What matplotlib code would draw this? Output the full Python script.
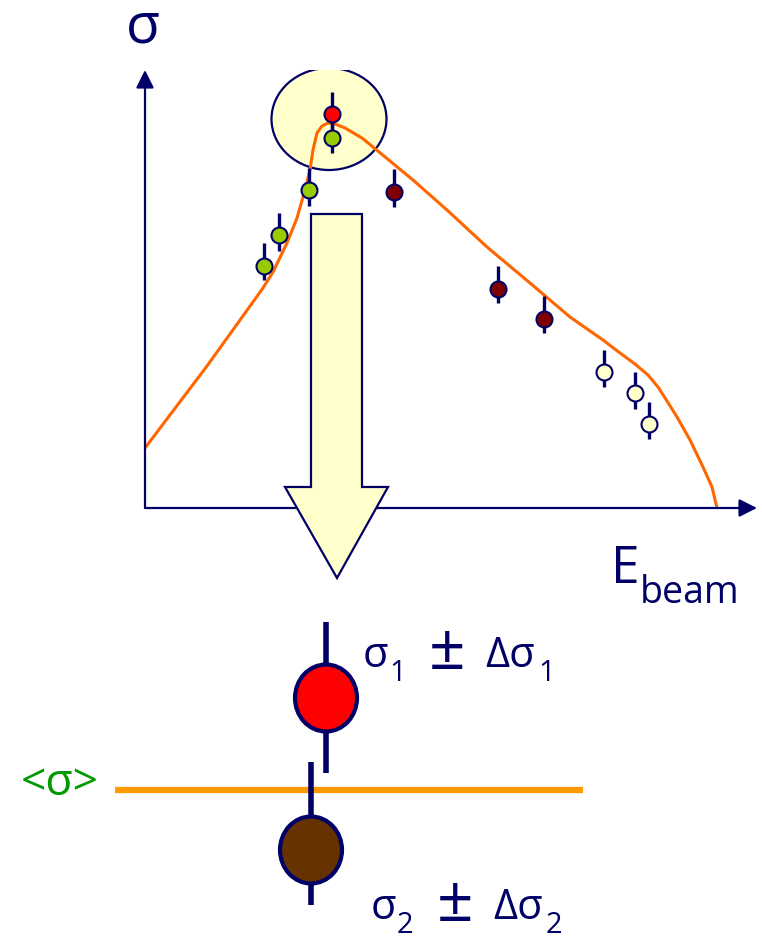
import matplotlib.pyplot as plt
from matplotlib.patches import Ellipse, Polygon

plt.rcParams['font.family'] = ['Open Sans', 'DejaVu Sans']

NAVY = '#000066'

# ---------------- upper panel: sigma vs beam energy ----------------
# measured points (E, sigma, err_down, err_up) grouped by experiment
green_E = [11.9, 13.4, 16.4, 18.7]
green_s = [24.2, 27.3, 31.8, 37.0]
green_lo = [1.4, 1.6, 1.6, 1.5]
green_hi = [2.3, 2.2, 2.2, 2.3]

red_E = [18.7]
red_s = [39.4]
red_lo = [1.5]
red_hi = [2.2]

dark_E = [24.9, 35.3, 39.9]
dark_s = [31.6, 21.9, 18.9]
dark_lo = [1.5, 1.4, 1.4]
dark_hi = [2.3, 2.3, 2.3]

pale_E = [45.9, 49.0, 50.4]
pale_s = [13.6, 11.5, 8.4]
pale_lo = [1.5, 1.6, 1.5]
pale_hi = [2.2, 2.1, 2.2]

# model curve
curve_E = [0.0, 6.2, 11.8, 12.8, 14.2, 15.2, 15.8, 16.5, 16.8,
           17.2, 17.7, 18.3, 19.0, 20.0, 21.7, 22.8, 26.8, 30.2, 34.2,
           38.5, 42.5, 45.8, 47.5, 49.0, 50.3, 51.3, 52.2, 53.2, 54.5, 55.8,
           56.7, 57.2]
curve_s = [6.0, 14.2, 22.0, 23.6, 26.5, 29.0, 31.1, 33.8, 35.8,
           37.5, 38.2, 38.5, 38.4, 38.0, 37.0, 36.1, 32.8, 29.8, 26.1,
           22.5, 19.1, 16.8, 15.5, 14.4, 13.3, 12.1, 10.7, 9.1, 6.8, 4.1,
           2.1, 0.0]

# ---------------- lower panel: two measurements and their mean ----------------
meas_x = [326, 311]
meas_y = [698, 850]
meas_bar_top = [622, 762]
meas_bar_bot = [773, 905]
meas_colors = ['#FF0000', '#663300']
meas_index = ['1', '2']
label_x = [363, 371]
label_base = [667, 919]
mean_y = 790
mean_x = [115, 583]

fig = plt.figure(figsize=(7.62, 9.41), dpi=100)

tx = fig.add_axes([145 / 762, (941 - 508) / 941, 612 / 762, 438 / 941])
tx.set_xlim(0, 61.2)
tx.set_ylim(0, 43.8)
tx.axis('off')

# axes with arrow heads
arrow_kw = dict(arrowstyle='-|>', mutation_scale=27, lw=1.6, color=NAVY,
                shrinkA=0, shrinkB=0)
tx.annotate('', xy=(0, 43.8), xytext=(0, 0), arrowprops=arrow_kw,
            annotation_clip=False)
tx.annotate('', xy=(61.2, 0), xytext=(0, 0), arrowprops=arrow_kw,
            annotation_clip=False)

# highlight around the peak
tx.add_patch(Ellipse((18.4, 38.9), 11.5, 10.2, fc='#FFFFCC', ec=NAVY,
                     lw=1.6, zorder=1))

tx.plot(curve_E, curve_s, color='#FF6600', lw=2.2, zorder=2,
        solid_joinstyle='round')

for E, s, lo, hi, c in [(green_E, green_s, green_lo, green_hi, '#99CC00'),
                        (red_E, red_s, red_lo, red_hi, '#FF0000'),
                        (dark_E, dark_s, dark_lo, dark_hi, '#800000'),
                        (pale_E, pale_s, pale_lo, pale_hi, '#FFFFCC')]:
    tx.errorbar(E, s, yerr=[lo, hi], fmt='o', ms=11.5, mfc=c, mec=NAVY,
                mew=1.5, ecolor=NAVY, elinewidth=2.4, capsize=0, zorder=3)

# ---------------- overlay in pixel coordinates ----------------
ax = fig.add_axes([0, 0, 1, 1])
ax.set_xlim(0, 762)
ax.set_ylim(941, 0)
ax.axis('off')
ax.patch.set_alpha(0)

# big down arrow
ax.add_patch(Polygon([(311, 214), (362, 214), (362, 487), (388, 487),
                      (337, 578), (285, 487), (311, 487)],
                     closed=True, fc='#FFFFCC', ec=NAVY, lw=1.6,
                     joinstyle='miter'))

ax.text(143, 28, 'σ', color=NAVY, fontsize=40, ha='center', va='center')
ax.text(611, 583, 'E', color=NAVY, fontsize=37, ha='left', va='baseline')
ax.text(640, 603, 'beam', color=NAVY, fontsize=27, ha='left',
        va='baseline')

# mean line
ax.plot(mean_x, [mean_y, mean_y], color='#FF9900', lw=4.5, zorder=1,
        solid_capstyle='butt')
ax.text(60, 784, '<σ>', color='#009900', fontsize=32, ha='center',
        va='center')

for x, y, t, b, c in zip(meas_x, meas_y, meas_bar_top, meas_bar_bot,
                         meas_colors):
    ax.plot([x, x], [t, b], color=NAVY, lw=4, zorder=2,
            solid_capstyle='butt')
    ax.add_patch(Ellipse((x, y), 62, 67, fc=c, ec=NAVY, lw=3, zorder=3))

# sigma_i ± Δsigma_i labels, built piece by piece on a shared baseline
for x0, base, i in zip(label_x, label_base, meas_index):
    ax.text(x0, base, 'σ', color=NAVY, fontsize=30, va='baseline')
    ax.text(x0 + 26, base + 14, i, color=NAVY, fontsize=21, va='baseline')
    ax.text(x0 + 84, base + 2, '±', color=NAVY, fontsize=46, va='baseline',
            ha='center')
    ax.text(x0 + 122, base, 'Δσ', color=NAVY, fontsize=30, va='baseline')
    ax.text(x0 + 175, base + 14, i, color=NAVY, fontsize=21, va='baseline')

fig.savefig('out.png', dpi=100)
